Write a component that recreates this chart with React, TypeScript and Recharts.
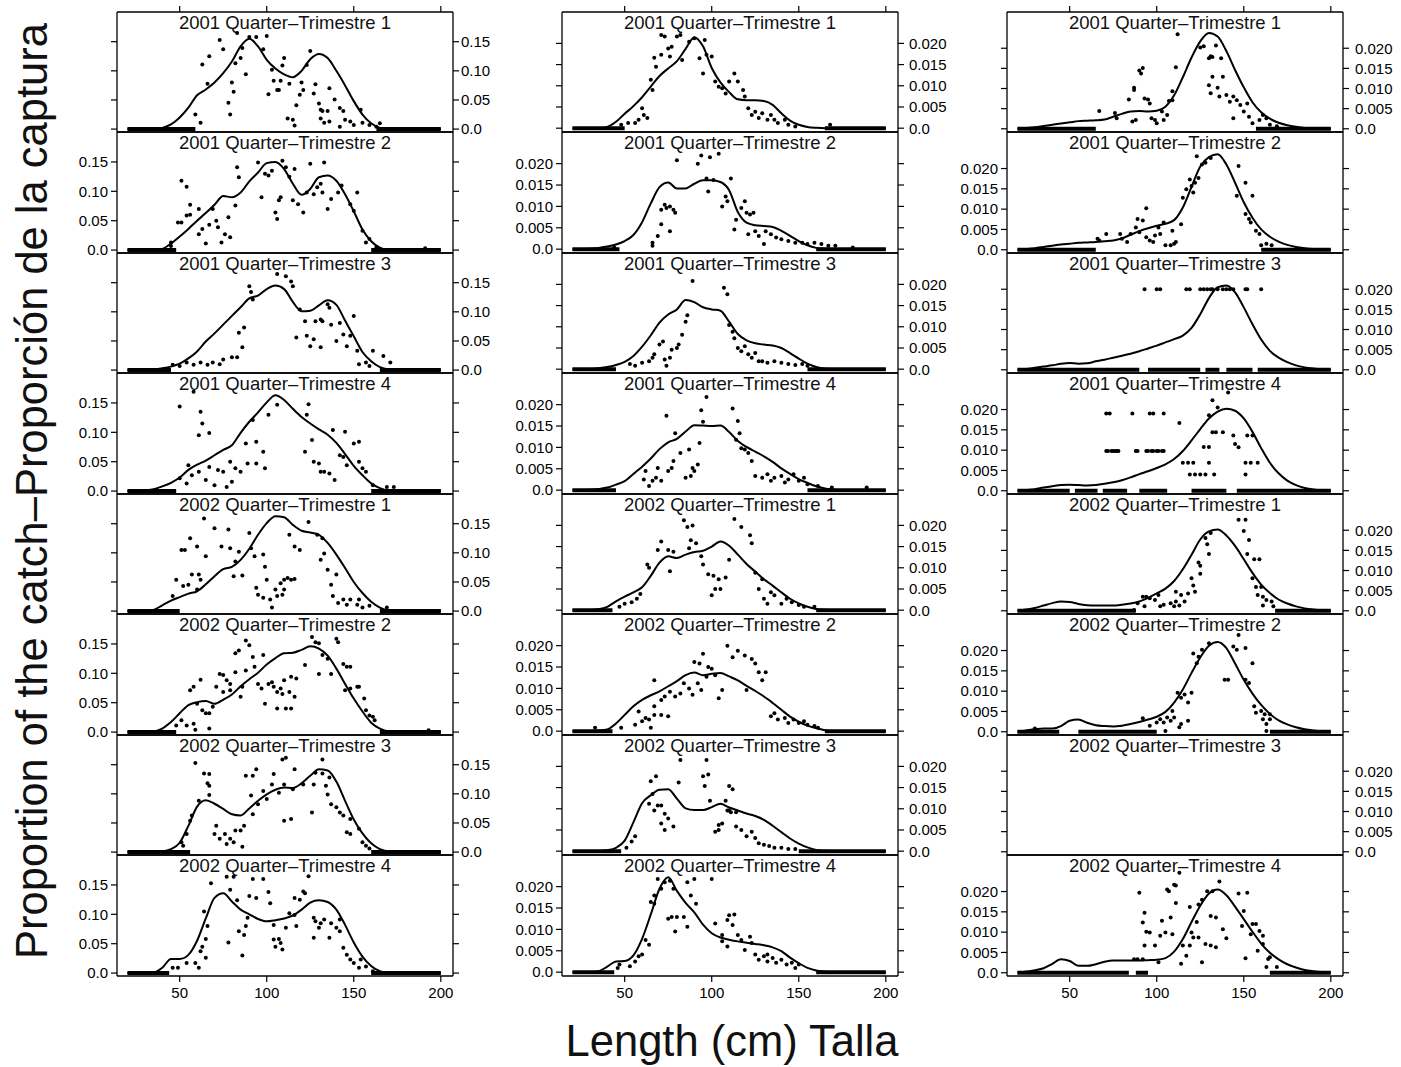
import React from "react";
import { ComposedChart, Line, Scatter, XAxis, YAxis, ReferenceLine } from "recharts";

type Pt = [number, number];
type Span = [number, number];

// length classes for the fitted curves (cm)
const LENGTHS = [
  20, 25, 30, 35, 40, 45, 50, 55, 60, 65, 70, 75, 80, 85, 90, 95, 100, 105, 110,
  115, 120, 125, 130, 135, 140, 145, 150, 155, 160, 165, 170, 175, 180, 185, 190, 195, 200,
];
const X_TICKS = [50, 100, 150, 200];
const Y_TICKS_A = [0, 0.05, 0.1, 0.15];
const Y_TICKS_BC = [0, 0.005, 0.01, 0.015, 0.02];
const PERIODS = [
  "2001 Quarter–Trimestre 1",
  "2001 Quarter–Trimestre 2",
  "2001 Quarter–Trimestre 3",
  "2001 Quarter–Trimestre 4",
  "2002 Quarter–Trimestre 1",
  "2002 Quarter–Trimestre 2",
  "2002 Quarter–Trimestre 3",
  "2002 Quarter–Trimestre 4",
];

// ---- column A (left) ----
const A1_FIT = [0,0,0,0,.002,.008,.02,.037,.058,.068,.08,.096,.116,.142,.155,.142,.119,.104,.094,.089,.1,.12,.129,.122,.1,.075,.048,.025,.01,.002,0,0,0,0,0,0,0];
const A1_OBS: Pt[] = [[59,.025],[62,.011],[63,.111],[67,.125],[66,.078],[73,.153],[75,.137],[78,.045],[79,.025],[80,.08],[81,.064],[82,.113],[83,.165],[85,.122],[86,.139],[88,.094],[90,.158],[94,.158],[100,.16],[98,.137],[101,.06],[103,.102],[104,.083],[106,.067],[107,.067],[109,.109],[110,.122],[108,.083],[113,.078],[112,.018],[115,.016],[116,.006],[117,.041],[119,.059],[120,.08],[121,.067],[123,.11],[125,.134],[127,.061],[128,.077],[130,.044],[131,.033],[132,.031],[131,.018],[133,.011],[136,.07],[135,.031],[136,.013],[139,.051],[142,.036],[144,.031],[145,.016],[142,.004],[148,.013],[150,.007],[154,.033],[155,.011],[159,.007],[163,.004],[165,.01]];
const A1_ZERO: Span[] = [[20,59],[163,200]];

const A2_FIT = [0,0,0,0,.002,.011,.023,.036,.05,.063,.077,.092,.09,.098,.117,.132,.148,.15,.138,.113,.094,.104,.124,.127,.118,.095,.066,.035,.015,.004,0,0,0,0,0,0,0];
const A2_OBS: Pt[] = [[45,.013],[45,.007],[51,.118],[54,.108],[56,.077],[54,.059],[56,.06],[49,.047],[51,.047],[61,.07],[61,.027],[63,.036],[65,.011],[67,.043],[69,.07],[71,.05],[72,.039],[74,.013],[76,.027],[78,.056],[79,.022],[83,.141],[82,.076],[84,.124],[95,.149],[97,.09],[99,.13],[101,.127],[103,.135],[105,.064],[106,.053],[107,.085],[109,.152],[108,.09],[111,.141],[113,.125],[116,.138],[115,.085],[118,.078],[121,.064],[123,.098],[125,.147],[127,.095],[129,.107],[131,.113],[133,.149],[132,.098],[135,.07],[137,.087],[141,.098],[143,.11],[148,.078],[152,.098],[150,.067],[155,.033],[157,.013],[159,.019],[163,.005],[191,.003]];
const A2_ZERO: Span[] = [[20,48],[160,200]];

const A3_FIT = [0,0,0,.001,.003,.006,.011,.02,.032,.049,.063,.078,.093,.108,.123,.128,.139,.145,.139,.117,.101,.102,.111,.12,.112,.085,.058,.031,.015,.005,.001,0,0,0,0,0,0];
const A3_OBS: Pt[] = [[106,.165],[111,.161],[114,.152],[115,.144],[90,.144],[91,.134],[92,.121],[84,.064],[87,.073],[86,.039],[83,.022],[80,.022],[75,.018],[73,.01],[69,.013],[66,.009],[62,.013],[58,.009],[54,.013],[50,.007],[46,.009],[117,.056],[119,.104],[122,.084],[123,.059],[125,.041],[127,.053],[131,.039],[128,.084],[131,.087],[132,.084],[135,.113],[136,.107],[137,.078],[140,.05],[142,.081],[144,.061],[146,.041],[148,.059],[150,.093],[152,.033],[153,.01],[157,.013],[161,.033],[159,.007],[167,.024],[171,.013]];
const A3_ZERO: Span[] = [[20,45],[165,200]];

const A4_FIT = [0,0,.001,.003,.008,.014,.023,.036,.045,.052,.061,.07,.078,.099,.118,.134,.151,.163,.155,.14,.126,.115,.105,.096,.082,.063,.043,.027,.013,.005,.001,0,0,0,0,0,0];
const A4_OBS: Pt[] = [[50,.144],[58,.169],[62,.135],[63,.115],[61,.095],[67,.099],[55,.044],[57,.027],[50,.022],[54,.013],[61,.033],[65,.019],[67,.041],[70,.01],[72,.036],[75,.033],[77,.007],[79,.05],[80,.016],[82,.039],[85,.033],[88,.081],[89,.047],[92,.121],[94,.084],[94,.047],[98,.067],[99,.039],[101,.13],[106,.147],[122,.067],[123,.13],[124,.148],[126,.087],[127,.05],[130,.047],[131,.033],[133,.033],[136,.03],[138,.104],[139,.019],[142,.061],[144,.058],[145,.101],[146,.044],[150,.081],[153,.05],[153,.084],[155,.039],[157,.033],[161,.01],[169,.007],[173,.007]];
const A4_ZERO: Span[] = [[20,48],[160,200]];

const A5_FIT = [0,0,0,.002,.01,.018,.024,.03,.034,.046,.06,.072,.076,.088,.107,.131,.151,.163,.161,.148,.138,.135,.131,.117,.097,.074,.05,.031,.016,.006,.001,0,0,0,0,0,0];
const A5_OBS: Pt[] = [[64,.159],[56,.125],[51,.105],[53,.105],[60,.111],[65,.094],[48,.054],[52,.043],[55,.045],[57,.063],[61,.063],[62,.054],[60,.037],[46,.026],[70,.142],[78,.14],[74,.111],[79,.108],[82,.085],[81,.06],[86,.061],[84,.102],[90,.134],[91,.108],[93,.094],[98,.097],[99,.076],[100,.054],[94,.04],[95,.028],[98,.023],[102,.02],[103,.006],[105,.037],[106,.026],[108,.048],[109,.028],[110,.037],[110,.054],[112,.057],[114,.054],[116,.055],[113,.131],[116,.111],[119,.105],[124,.153],[129,.131],[132,.125],[131,.088],[133,.099],[135,.071],[137,.045],[138,.026],[140,.063],[141,.014],[144,.02],[146,.011],[148,.02],[152,.011],[153,.02],[155,.006],[159,.009],[169,.006]];
const A5_ZERO: Span[] = [[20,50],[165,200]];

const A6_FIT = [0,0,0,.001,.006,.017,.032,.046,.051,.053,.048,.055,.064,.078,.09,.101,.115,.126,.134,.135,.14,.146,.142,.13,.108,.082,.057,.035,.016,.006,.001,0,0,0,0,0,0];
const A6_OBS: Pt[] = [[88,.156],[82,.134],[84,.139],[90,.148],[92,.128],[98,.131],[93,.111],[88,.105],[73,.099],[75,.097],[77,.088],[79,.082],[82,.102],[79,.071],[71,.077],[75,.068],[62,.089],[56,.071],[58,.077],[60,.048],[63,.037],[65,.032],[67,.032],[69,.043],[54,.011],[59,.004],[58,.014],[67,.006],[51,.02],[48,.011],[85,.06],[86,.077],[95,.082],[97,.074],[99,.048],[101,.082],[103,.085],[104,.077],[106,.04],[106,.068],[108,.074],[109,.065],[110,.088],[111,.04],[113,.068],[114,.04],[116,.06],[114,.094],[117,.091],[122,.114],[126,.162],[128,.153],[130,.151],[130,.099],[132,.131],[135,.125],[137,.099],[140,.159],[141,.153],[144,.116],[146,.111],[148,.111],[145,.071],[148,.074],[152,.077],[153,.077],[156,.057],[157,.037],[159,.028],[161,.026],[162,.02],[193,.003]];
const A6_ZERO: Span[] = [[20,48],[165,200]];

const A7_FIT = [0,0,0,0,.001,.005,.016,.045,.078,.089,.083,.074,.065,.063,.075,.088,.099,.107,.111,.11,.118,.131,.142,.14,.121,.088,.056,.032,.015,.005,.001,0,0,0,0,0,0];
const A7_OBS: Pt[] = [[59,.153],[64,.135],[67,.134],[66,.118],[67,.114],[67,.098],[61,.088],[57,.063],[56,.054],[54,.031],[51,.017],[52,.011],[71,.045],[70,.031],[73,.023],[76,.031],[77,.014],[79,.023],[81,.017],[82,.037],[85,.037],[87,.045],[86,.009],[88,.131],[92,.131],[94,.142],[91,.097],[95,.082],[92,.065],[98,.105],[100,.091],[104,.134],[103,.116],[109,.159],[111,.162],[110,.116],[107,.102],[110,.054],[114,.057],[116,.142],[115,.108],[121,.116],[126,.068],[127,.116],[128,.136],[132,.159],[132,.135],[134,.114],[136,.128],[135,.099],[137,.082],[140,.077],[142,.068],[144,.063],[148,.057],[146,.034],[148,.031],[153,.04],[155,.017],[157,.011],[159,.006]];
const A7_ZERO: Span[] = [[20,56],[160,200]];

const A8_FIT = [0,0,0,.001,.009,.024,.024,.031,.055,.093,.128,.136,.122,.108,.1,.092,.088,.09,.093,.098,.108,.12,.124,.121,.108,.082,.052,.028,.012,.003,0,0,0,0,0,0,0];
const A8_OBS: Pt[] = [[68,.153],[77,.164],[81,.164],[92,.16],[98,.16],[101,.138],[102,.119],[90,.131],[94,.128],[124,.165],[121,.139],[116,.128],[119,.125],[122,.136],[83,.124],[79,.142],[89,.094],[88,.08],[84,.071],[87,.065],[78,.052],[86,.03],[64,.105],[66,.08],[65,.058],[63,.045],[62,.037],[65,.026],[59,.017],[61,.009],[54,.017],[49,.009],[46,.009],[104,.082],[107,.058],[104,.057],[105,.045],[108,.051],[109,.04],[111,.077],[113,.102],[117,.08],[116,.099],[127,.094],[127,.06],[130,.077],[128,.088],[131,.085],[133,.091],[136,.06],[137,.085],[140,.077],[142,.071],[142,.091],[144,.043],[146,.031],[148,.023],[150,.017],[153,.009],[154,.023],[157,.011],[161,.003]];
const A8_ZERO: Span[] = [[20,44],[160,200]];

// ---- column B (middle) ----
const B1_FIT = [0,0,0,0,.0003,.0015,.0034,.0052,.0073,.0098,.0123,.0141,.0158,.0187,.0214,.0193,.0142,.0108,.0085,.0068,.0066,.0066,.0064,.0055,.0035,.0018,.0008,.0003,.0001,0,0,0,0,0,0,0,0];
const B1_OBS: Pt[] = [[71,.022],[73,.0216],[67,.0166],[68,.0145],[71,.0173],[75,.0188],[77,.0192],[76,.0169],[83,.0161],[80,.0216],[82,.022],[87,.0204],[90,.0212],[96,.0208],[93,.0165],[97,.0173],[95,.0129],[100,.0169],[102,.011],[104,.0098],[106,.0094],[108,.0082],[110,.011],[113,.0129],[115,.011],[118,.009],[119,.0075],[121,.0047],[123,.0031],[125,.0039],[127,.0024],[129,.0035],[132,.002],[134,.0031],[136,.002],[138,.0012],[142,.002],[144,.0008],[148,.0004],[60,.0047],[61,.0031],[63,.0024],[58,.002],[56,.0012],[52,.0012],[48,.0008],[65,.0114],[66,.009],[168,.0008]];
const B1_ZERO: Span[] = [[20,50],[165,200]];

const B2_FIT = [0,0,.0001,.0003,.0006,.0011,.0019,.0033,.0063,.0107,.0145,.0156,.0142,.0142,.0153,.0161,.0161,.0157,.0138,.0087,.0062,.0056,.0054,.0052,.0043,.0031,.0019,.0009,.0003,.0001,0,0,0,0,0,0,0];
const B2_OBS: Pt[] = [[80,.0208],[92,.02],[94,.0219],[99,.0215],[104,.0223],[98,.0135],[97,.0165],[101,.0162],[73,.0104],[71,.0092],[74,.0096],[76,.01],[78,.0092],[79,.0085],[71,.0058],[69,.0031],[76,.0042],[66,.0015],[66,.0008],[44,.0004],[106,.01],[108,.0123],[109,.0112],[111,.0165],[113,.0046],[114,.0069],[117,.0096],[119,.0112],[120,.0085],[122,.0081],[124,.0085],[121,.0035],[125,.0042],[127,.0031],[130,.0012],[131,.0042],[134,.0035],[137,.0027],[140,.0023],[144,.0019],[148,.0015],[152,.0015],[155,.0012],[159,.0015],[163,.0012],[167,.0008],[171,.0008],[181,.0004]];
const B2_ZERO: Span[] = [[20,47],[160,200]];

const B3_FIT = [0,0,0,.0002,.0005,.001,.0017,.0031,.0053,.008,.011,.0129,.0141,.0163,.0158,.0146,.0141,.0138,.0112,.0083,.0068,.0061,.0058,.0056,.005,.0038,.0025,.0013,.0005,.0001,0,0,0,0,0,0,0];
const B3_OBS: Pt[] = [[89,.0208],[107,.0192],[109,.0177],[86,.0127],[85,.0112],[83,.0081],[81,.0058],[80,.005],[77,.0046],[76,.0027],[74,.0008],[73,.0023],[72,.0065],[70,.0058],[67,.0035],[66,.0027],[64,.0019],[60,.0015],[56,.0008],[53,.0012],[110,.0104],[112,.0088],[113,.0073],[115,.005],[117,.0042],[119,.0054],[121,.0035],[123,.0027],[125,.0038],[127,.0019],[129,.0019],[132,.0015],[136,.0019],[140,.0015],[144,.0012],[148,.001],[152,.0012],[155,.0008]];
const B3_ZERO: Span[] = [[20,45],[155,200]];

const B4_FIT = [0,0,.0001,.0003,.0006,.0013,.0021,.0038,.0055,.0074,.0096,.0112,.012,.0137,.0152,.0151,.015,.0151,.0136,.0115,.0101,.009,.0079,.0066,.0051,.0038,.0026,.0017,.0009,.0004,.0001,0,0,0,0,0,0];
const B4_OBS: Pt[] = [[74,.0174],[97,.0218],[94,.0187],[95,.016],[112,.0191],[115,.0162],[116,.0133],[79,.0133],[93,.011],[82,.0087],[87,.0095],[78,.0068],[75,.0045],[77,.0052],[69,.0052],[68,.0029],[66,.0022],[62,.0045],[61,.0025],[64,.001],[71,.0022],[85,.0029],[88,.0033],[90,.0045],[92,.006],[89,.0052],[114,.0118],[117,.0098],[119,.0095],[121,.0087],[123,.0068],[125,.0033],[129,.0029],[132,.0037],[134,.0022],[136,.0029],[140,.0033],[142,.0018],[144,.0025],[147,.0037],[150,.0022],[153,.0029],[155,.0014],[161,.001],[169,.0006],[189,.0006]];
const B4_ZERO: Span[] = [[20,45],[155,200]];

const B5_FIT = [0,0,0,.0002,.0008,.0021,.0032,.0042,.0054,.0081,.0112,.0127,.0123,.0131,.0137,.014,.015,.0162,.0152,.0131,.0109,.0091,.0073,.0058,.0042,.0027,.0016,.0008,.0003,.0001,0,0,0,0,0,0,0];
const B5_OBS: Pt[] = [[71,.0162],[69,.0142],[75,.0142],[78,.0138],[63,.0108],[64,.01],[76,.0092],[84,.0212],[86,.0196],[89,.02],[88,.0165],[91,.0158],[87,.0146],[94,.0127],[95,.0108],[98,.0085],[101,.0081],[104,.0073],[108,.0077],[102,.005],[105,.005],[100,.0035],[110,.0119],[113,.0215],[117,.0196],[122,.0177],[123,.0158],[125,.0088],[127,.005],[129,.0073],[130,.0027],[132,.0015],[134,.0042],[136,.0035],[140,.0015],[143,.0027],[146,.0019],[150,.0012],[153,.0008],[159,.0008],[59,.0038],[57,.0027],[54,.0019],[50,.0015],[47,.0008]];
const B5_ZERO: Span[] = [[20,43],[160,200]];

const B6_FIT = [0,0,0,.0001,.0004,.0018,.0038,.0058,.0073,.0084,.0093,.0105,.0117,.0131,.0137,.0131,.0134,.0136,.0128,.0119,.0106,.0094,.0081,.0066,.005,.0034,.0022,.0013,.0007,.0002,0,0,0,0,0,0,0];
const B6_OBS: Pt[] = [[67,.0119],[95,.0181],[90,.0162],[93,.0158],[109,.02],[112,.0173],[115,.0188],[119,.0177],[123,.0169],[125,.0158],[127,.0138],[131,.0138],[129,.0119],[120,.0096],[98,.015],[100,.0146],[97,.0127],[102,.0131],[106,.0096],[104,.0077],[92,.0112],[94,.0096],[89,.0085],[87,.01],[84,.0112],[82,.0088],[79,.0081],[76,.0092],[73,.0081],[71,.0073],[67,.0058],[75,.0035],[71,.0038],[67,.0038],[64,.0027],[62,.0031],[60,.0023],[58,.0046],[56,.0015],[65,.0008],[48,.0008],[33,.0008],[134,.0035],[136,.0042],[138,.0027],[142,.0031],[144,.0019],[147,.0027],[150,.0019],[153,.0023],[155,.0015],[159,.0012],[161,.0008]];
const B6_ZERO: Span[] = [[20,43],[165,200]];

const B7_FIT = [0,0,0,0,.0002,.0008,.0025,.0068,.0113,.0132,.0145,.0146,.0124,.0101,.0097,.0097,.0104,.0112,.0103,.0096,.0089,.0083,.0074,.006,.0045,.003,.0018,.0009,.0003,.0001,0,0,0,0,0,0,0];
const B7_OBS: Pt[] = [[68,.0177],[65,.0165],[66,.0135],[64,.0112],[67,.0096],[69,.0108],[71,.0108],[81,.0162],[82,.0215],[97,.0215],[98,.0181],[95,.0177],[96,.0154],[110,.0154],[112,.0146],[99,.0119],[108,.0119],[109,.0096],[110,.0096],[111,.0092],[114,.0092],[104,.0062],[106,.0065],[102,.0046],[104,.005],[73,.0088],[75,.0077],[73,.005],[71,.0065],[78,.0058],[56,.0035],[54,.0023],[51,.0008],[114,.0058],[117,.005],[120,.0035],[123,.0046],[125,.0031],[127,.0019],[130,.0015],[133,.0012],[136,.0008],[140,.0008],[144,.0005],[148,.0005]];
const B7_ZERO: Span[] = [[20,48],[150,200]];

const B8_FIT = [0,0,0,.0002,.0013,.0025,.0026,.0039,.0078,.0135,.0195,.0222,.019,.0162,.014,.0111,.0091,.0081,.0076,.0072,.0069,.0066,.0063,.0058,.0049,.0034,.0021,.001,.0004,.0001,0,0,0,0,0,0,0];
const B8_OBS: Pt[] = [[69,.0218],[73,.021],[76,.0214],[78,.0195],[71,.0195],[67,.0179],[65,.0164],[67,.016],[90,.0218],[100,.0218],[86,.021],[88,.0179],[91,.016],[75,.0125],[77,.0129],[80,.0129],[84,.0129],[86,.0106],[79,.0095],[102,.0114],[110,.0133],[113,.0135],[109,.0122],[112,.011],[106,.0072],[109,.006],[106,.0087],[115,.0087],[117,.0075],[119,.0052],[122,.0083],[123,.0068],[125,.0041],[127,.0029],[130,.0037],[132,.0041],[132,.0025],[135,.0033],[137,.0022],[140,.0029],[143,.0018],[146,.0022],[148,.001],[150,.0018],[62,.0075],[64,.0064],[60,.0041],[58,.0037],[56,.0025],[53,.0014],[47,.0018],[46,.001]];
const B8_ZERO: Span[] = [[20,44],[160,200]];

// ---- column C (right) ----
const C1_FIT = [0,.0002,.0004,.0007,.001,.0013,.0016,.0019,.002,.0021,.0023,.003,.0037,.0043,.0044,.0043,.0045,.0055,.0083,.0128,.0177,.0217,.0238,.0229,.0193,.0146,.0103,.0066,.0041,.0025,.0015,.0009,.0005,.0002,.0001,0,0];
const C1_OBS: Pt[] = [[67,.0044],[76,.0039],[77,.0026],[84,.0073],[86,.0018],[87,.0102],[87,.0096],[88,.0022],[90,.0145],[92,.0151],[91,.0137],[93,.0075],[95,.0073],[96,.0063],[97,.0026],[99,.0022],[100,.0014],[103,.0043],[104,.0022],[106,.0034],[107,.0069],[109,.0093],[109,.0071],[111,.0153],[112,.0235],[125,.0202],[127,.0205],[130,.0175],[131,.018],[132,.0178],[134,.0207],[137,.0175],[130,.0108],[132,.0129],[131,.0088],[135,.0102],[138,.0129],[136,.008],[140,.0084],[142,.0067],[144,.008],[146,.0071],[144,.0026],[148,.0059],[150,.0043],[152,.0063],[153,.003],[155,.0014],[159,.0022],[161,.0034],[163,.0026],[165,.001],[169,.0006]];
const C1_ZERO: Span[] = [[20,65],[157,200]];

const C2_FIT = [0,.0002,.0004,.0007,.001,.0013,.0015,.0017,.0018,.0019,.0021,.0023,.0028,.0037,.0046,.0053,.0059,.0064,.0073,.0104,.0155,.0205,.0228,.0235,.021,.0165,.0117,.0079,.005,.0032,.002,.0012,.0007,.0004,.0002,.0001,0];
const C2_OBS: Pt[] = [[66,.0027],[67,.0023],[71,.0039],[79,.0039],[80,.0027],[83,.0019],[85,.0039],[89,.0076],[88,.0055],[90,.0043],[92,.0072],[94,.0102],[94,.0031],[96,.0023],[98,.0019],[99,.0035],[102,.0039],[101,.0055],[104,.0067],[105,.0011],[108,.0011],[110,.0015],[109,.0047],[111,.0019],[114,.0063],[115,.0128],[117,.0149],[119,.0173],[120,.0157],[122,.0165],[121,.0141],[124,.0177],[126,.021],[128,.0214],[123,.023],[131,.0226],[146,.0133],[147,.0206],[151,.0165],[155,.0133],[151,.0088],[153,.0076],[154,.0067],[157,.0047],[159,.0039],[160,.0011],[163,.0015],[166,.0011]];
const C2_ZERO: Span[] = [[20,65],[160,200]];

const C3_FIT = [0,.0002,.0005,.0008,.0011,.0015,.0017,.0015,.0016,.0021,.0025,.003,.0035,.004,.0046,.0053,.006,.0068,.0076,.0085,.0104,.0138,.0178,.0205,.0209,.0192,.0155,.0113,.0075,.0047,.003,.0019,.0011,.0006,.0003,.0001,0];
const C3_OBS: Pt[] = [[93,.02],[100,.02],[102,.02],[117,.02],[119,.02],[125,.02],[127,.02],[129,.02],[131,.02],[132,.02],[135,.02],[138,.02],[140,.02],[142,.02],[144,.02],[151,.02],[152,.02],[160,.02]];
const C3_ZERO: Span[] = [[20,90],[95,125],[128,136],[140,155],[158,200]];

const C4_FIT = [0,.0002,.0004,.0008,.0011,.0014,.0015,.0014,.0013,.0014,.0017,.0021,.0026,.0033,.0041,.0048,.0056,.0065,.0078,.0098,.0124,.0152,.0178,.0195,.0202,.0197,.0178,.0145,.0105,.0069,.0043,.0025,.0014,.0007,.0003,.0001,0];
const C4_OBS: Pt[] = [[71,.019],[73,.019],[86,.019],[96,.019],[98,.019],[104,.019],[71,.0098],[72,.0098],[74,.0098],[75,.0098],[76,.0098],[77,.0098],[78,.0098],[88,.0098],[89,.0098],[94,.0098],[95,.0098],[97,.0098],[98,.0098],[100,.0098],[101,.0098],[103,.0098],[104,.0098],[113,.0167],[130,.0186],[132,.0223],[135,.0205],[141,.0242],[132,.0144],[134,.0144],[138,.0144],[144,.0136],[152,.0136],[155,.0136],[145,.0115],[147,.0107],[127,.0108],[130,.0108],[115,.0069],[118,.0069],[121,.0069],[130,.0069],[151,.0069],[154,.0069],[158,.0069],[119,.004],[122,.004],[125,.004],[128,.004],[133,.004],[151,.004]];
const C4_ZERO: Span[] = [[20,50],[53,66],[69,83],[90,106],[120,140],[146,200]];

const C5_FIT = [0,.0003,.0007,.0013,.0019,.0023,.0022,.0017,.0014,.0013,.0013,.0013,.0015,.0018,.0023,.0032,.0043,.0055,.0074,.0103,.0139,.0177,.0197,.0202,.0187,.0161,.0128,.0094,.0065,.0044,.0028,.0018,.0011,.0006,.0003,.0001,0];
const C5_OBS: Pt[] = [[147,.0226],[151,.0226],[150,.0198],[153,.0176],[152,.0141],[156,.0128],[159,.0128],[155,.0081],[157,.0059],[160,.0059],[158,.0039],[161,.0035],[163,.0027],[166,.0023],[161,.0013],[167,.0011],[131,.0193],[128,.0181],[129,.0165],[130,.0141],[124,.012],[125,.0112],[125,.0092],[120,.0081],[121,.0063],[122,.0047],[118,.0043],[114,.0039],[116,.0023],[113,.0013],[111,.0023],[110,.0011],[111,.0047],[108,.0019],[104,.0015],[102,.0011],[101,.0039],[99,.0027],[96,.0031],[94,.0035],[92,.0035],[93,.0011],[89,.0019],[87,.0002]];
const C5_ZERO: Span[] = [[20,88],[168,200]];

const C6_FIT = [0,.0003,.0006,.0008,.0008,.0014,.0027,.003,.0022,.0016,.0014,.0013,.0015,.0019,.0024,.003,.0037,.0049,.0072,.0104,.0145,.0183,.0212,.0221,.0206,.0168,.0128,.0094,.0066,.0044,.0028,.0018,.0011,.0006,.0003,.0001,0];
const C6_OBS: Pt[] = [[30,.0008],[92,.0033],[96,.0015],[100,.0023],[102,.0031],[104,.0023],[106,.0035],[108,.0027],[110,.0035],[109,.0051],[105,.0002],[113,.0011],[114,.0019],[118,.0027],[112,.0096],[114,.0084],[116,.0092],[118,.0072],[120,.0096],[121,.0193],[123,.0169],[124,.0185],[126,.0202],[130,.0218],[139,.0128],[141,.0128],[147,.0238],[144,.021],[146,.0202],[151,.0206],[155,.0169],[151,.0128],[153,.012],[156,.0063],[157,.0047],[160,.0051],[162,.0043],[165,.0043],[161,.0031],[163,.0019],[165,.0031],[163,.0002]];
const C6_ZERO: Span[] = [[20,44],[55,100],[165,200]];

const C8_FIT = [0,.0003,.0006,.0011,.0022,.0033,.0029,.0017,.0017,.0021,.0027,.003,.003,.003,.003,.0031,.0032,.0036,.0052,.0083,.0125,.0165,.0195,.0205,.0191,.0163,.0132,.0101,.0072,.0049,.0033,.0021,.0013,.0007,.0004,.0002,.0001];
const C8_OBS: Pt[] = [[90,.0197],[113,.0246],[106,.0205],[107,.0201],[110,.0217],[111,.0215],[111,.0172],[93,.0148],[92,.0124],[94,.0101],[96,.0099],[93,.0067],[99,.0067],[103,.0128],[102,.0091],[105,.0099],[109,.0095],[108,.0136],[119,.0162],[124,.0168],[126,.018],[129,.0201],[132,.0201],[136,.0225],[123,.0125],[124,.0087],[120,.0099],[121,.0087],[119,.0067],[115,.0067],[117,.0042],[114,.0022],[126,.0026],[131,.014],[134,.0136],[128,.0071],[131,.0067],[134,.0063],[138,.0107],[140,.0085],[147,.0195],[152,.0197],[149,.0115],[151,.0036],[150,.0152],[155,.012],[157,.012],[154,.0095],[159,.0103],[161,.0091],[158,.0054],[161,.0071],[164,.0034],[165,.0038],[163,.0014],[169,.0014],[87,.0033],[89,.0033],[92,.0033],[101,.0026]];
const C8_ZERO: Span[] = [[20,84],[88,95],[165,200]];

// ---- layout ----
const FONT = '"Liberation Sans", Arial, Helvetica, sans-serif';
const COL_LEFT = [117, 562, 1007];
const FRAME_W = 336;
const ROW_TOP = [12, 132, 253, 373, 494, 614, 735, 855, 976];
const PAD = { top: 30, right: 70, bottom: 40, left: 70 };
// axes get 1px of room each (recharts skips a zero-sized axis), so the margin gives it back
const MARGIN = { top: PAD.top - 1, right: PAD.right - 1, bottom: PAD.bottom - 1, left: PAD.left - 1 };
const X_DOMAIN: [number, number] = [14, 207];
const Y_DOMAINS: [number, number][] = [[-0.005, 0.201], [-0.0009, 0.0274], [-0.0008, 0.029]];
const RIGHT_LABEL_GAP = [2, 5, 6];

const fmtA = (v: number) => (v === 0 ? "0.0" : v.toFixed(2));
const fmtBC = (v: number) => (v === 0 ? "0.0" : v.toFixed(3));
const blank = () => "";

const Dot = (p: any) => <circle cx={p.cx} cy={p.cy} r={2} fill="#000" />;

type PanelDef = { col: number; row: number; fit: number[] | null; obs: Pt[]; zeros: Span[] };

const PANELS: PanelDef[] = [
  { col: 0, row: 0, fit: A1_FIT, obs: A1_OBS, zeros: A1_ZERO },
  { col: 0, row: 1, fit: A2_FIT, obs: A2_OBS, zeros: A2_ZERO },
  { col: 0, row: 2, fit: A3_FIT, obs: A3_OBS, zeros: A3_ZERO },
  { col: 0, row: 3, fit: A4_FIT, obs: A4_OBS, zeros: A4_ZERO },
  { col: 0, row: 4, fit: A5_FIT, obs: A5_OBS, zeros: A5_ZERO },
  { col: 0, row: 5, fit: A6_FIT, obs: A6_OBS, zeros: A6_ZERO },
  { col: 0, row: 6, fit: A7_FIT, obs: A7_OBS, zeros: A7_ZERO },
  { col: 0, row: 7, fit: A8_FIT, obs: A8_OBS, zeros: A8_ZERO },
  { col: 1, row: 0, fit: B1_FIT, obs: B1_OBS, zeros: B1_ZERO },
  { col: 1, row: 1, fit: B2_FIT, obs: B2_OBS, zeros: B2_ZERO },
  { col: 1, row: 2, fit: B3_FIT, obs: B3_OBS, zeros: B3_ZERO },
  { col: 1, row: 3, fit: B4_FIT, obs: B4_OBS, zeros: B4_ZERO },
  { col: 1, row: 4, fit: B5_FIT, obs: B5_OBS, zeros: B5_ZERO },
  { col: 1, row: 5, fit: B6_FIT, obs: B6_OBS, zeros: B6_ZERO },
  { col: 1, row: 6, fit: B7_FIT, obs: B7_OBS, zeros: B7_ZERO },
  { col: 1, row: 7, fit: B8_FIT, obs: B8_OBS, zeros: B8_ZERO },
  { col: 2, row: 0, fit: C1_FIT, obs: C1_OBS, zeros: C1_ZERO },
  { col: 2, row: 1, fit: C2_FIT, obs: C2_OBS, zeros: C2_ZERO },
  { col: 2, row: 2, fit: C3_FIT, obs: C3_OBS, zeros: C3_ZERO },
  { col: 2, row: 3, fit: C4_FIT, obs: C4_OBS, zeros: C4_ZERO },
  { col: 2, row: 4, fit: C5_FIT, obs: C5_OBS, zeros: C5_ZERO },
  { col: 2, row: 5, fit: C6_FIT, obs: C6_OBS, zeros: C6_ZERO },
  { col: 2, row: 6, fit: null, obs: [], zeros: [] }, // no sample this quarter
  { col: 2, row: 7, fit: C8_FIT, obs: C8_OBS, zeros: C8_ZERO },
];

function Panel({ col, row, fit, obs, zeros }: PanelDef) {
  const h = ROW_TOP[row + 1] - ROW_TOP[row];
  const labelsRight = row % 2 === 0;
  const first = row === 0;
  const last = row === 7;
  const line = LENGTHS.map((x, i) => ({ x, y: fit ? fit[i] : null }));
  const pts = obs.map(([x, y]) => ({ x, y }));
  const yTicks = col === 0 ? Y_TICKS_A : Y_TICKS_BC;
  const fmt = col === 0 ? fmtA : fmtBC;
  const tickStyle = { fontSize: 15, fill: "#000", fontFamily: FONT };
  const frame = { stroke: "#000", strokeWidth: 1.3 };
  const tl = { stroke: "#000", strokeWidth: 1.2 };

  return (
    <div style={{ position: "absolute", left: COL_LEFT[col] - PAD.left, top: ROW_TOP[row] - PAD.top }}>
      <ComposedChart width={FRAME_W + PAD.left + PAD.right} height={h + PAD.top + PAD.bottom} margin={MARGIN}>
        <XAxis
          xAxisId="b" type="number" dataKey="x" domain={X_DOMAIN} allowDataOverflow
          ticks={X_TICKS} interval={0} height={1} axisLine={frame}
          tickLine={last ? tl : false} tickSize={6} tickMargin={5}
          tick={tickStyle} tickFormatter={last ? undefined : blank}
        />
        <XAxis
          xAxisId="t" orientation="top" type="number" dataKey="x" domain={X_DOMAIN} allowDataOverflow
          ticks={X_TICKS} interval={0} height={1} axisLine={frame}
          tickLine={first ? tl : false} tickSize={6} tick={tickStyle} tickFormatter={blank}
        />
        <YAxis
          yAxisId="l" type="number" domain={Y_DOMAINS[col]} allowDataOverflow
          ticks={yTicks} interval={0} width={1} axisLine={frame} tickLine={tl}
          tickSize={6} tickMargin={3} tick={tickStyle} tickFormatter={labelsRight ? blank : fmt}
        />
        <YAxis
          yAxisId="r" orientation="right" type="number" domain={Y_DOMAINS[col]} allowDataOverflow
          ticks={yTicks} interval={0} width={1} axisLine={frame} tickLine={tl}
          tickSize={6} tickMargin={RIGHT_LABEL_GAP[col]} tick={tickStyle}
          tickFormatter={labelsRight ? fmt : blank}
        />
        {zeros.map(([a, b], i) => (
          <ReferenceLine
            key={i} xAxisId="b" yAxisId="l"
            segment={[{ x: a, y: 0 }, { x: b, y: 0 }]}
            stroke="#000" strokeWidth={4}
          />
        ))}
        <Scatter
          xAxisId="t" yAxisId="r" data={pts} dataKey="y"
          shape={Dot} isAnimationActive={false}
        />
        <Line
          xAxisId="b" yAxisId="l" data={line} dataKey="y" type="monotone"
          stroke="#000" strokeWidth={2} dot={false} activeDot={false}
          isAnimationActive={false}
        />
      </ComposedChart>
    </div>
  );
}

export default function App() {
  return (
    <div
      style={{
        position: "absolute", left: 0, top: 0, width: 1401, height: 1067,
        background: "#fff", fontFamily: FONT, overflow: "hidden",
      }}
    >
      {PANELS.map((p) => (
        <div
          key={`t${p.col}${p.row}`}
          style={{
            position: "absolute", left: COL_LEFT[p.col], top: ROW_TOP[p.row] + 1,
            width: FRAME_W, textAlign: "center", fontSize: 18.5, lineHeight: "20px",
            color: "#111", whiteSpace: "nowrap",
          }}
        >
          {PERIODS[p.row]}
        </div>
      ))}
      {PANELS.map((p) => (
        <Panel key={`p${p.col}${p.row}`} {...p} />
      ))}
      <div
        style={{
          position: "absolute", left: 33, top: 491, fontSize: 43.5, lineHeight: "43.5px",
          whiteSpace: "nowrap", color: "#111",
          transform: "translate(-50%, -50%) rotate(-90deg)",
        }}
      >
        Proportion of the catch–Proporción de la captura
      </div>
      <div
        style={{
          position: "absolute", left: 432, top: 1020, width: 600, textAlign: "center",
          fontSize: 43.5, lineHeight: "43.5px", whiteSpace: "nowrap", color: "#111",
        }}
      >
        Length (cm) Talla
      </div>
    </div>
  );
}
